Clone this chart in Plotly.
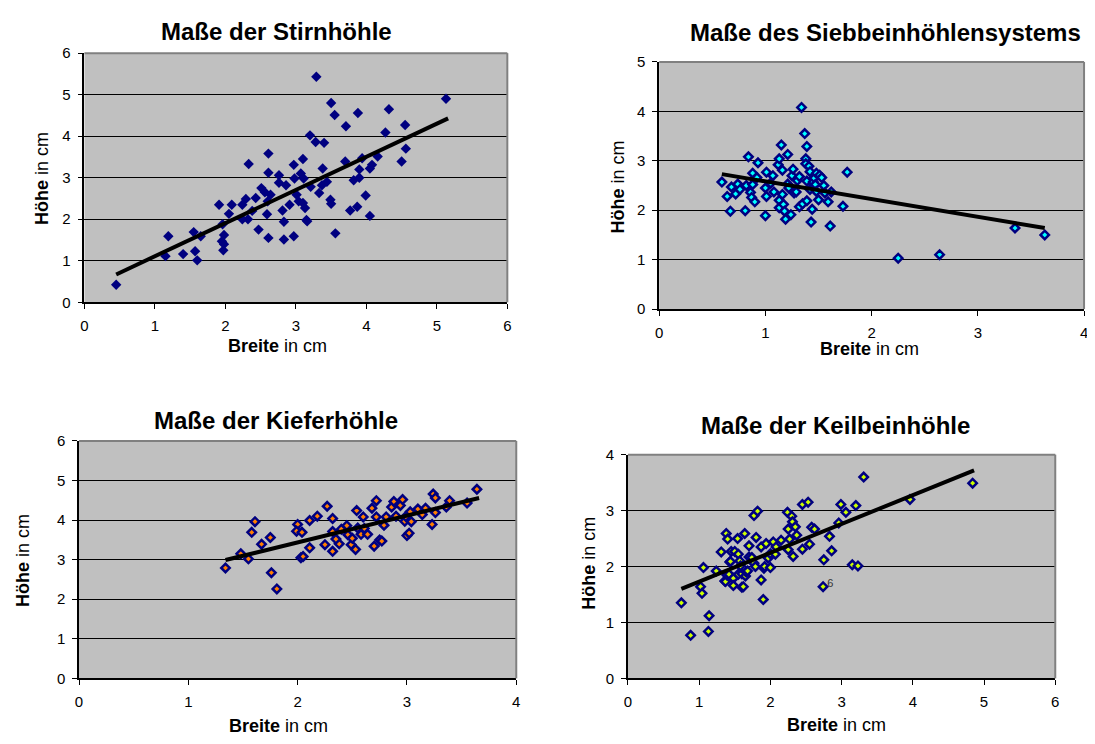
import plotly.graph_objects as go

# page body keeps a default 8px margin around the plot
PAGE_MARGIN = 8
W, H = 1095 - PAGE_MARGIN, 744 - PAGE_MARGIN

# ---------------- data ----------------
# Panel 1: Maße der Stirnhöhle
stirn_breite = [0.45, 1.19, 1.15, 1.40, 1.55, 1.57, 1.60, 1.65, 1.91, 1.96, 1.98, 1.95, 1.98, 1.97,
                2.05, 2.09, 2.24, 2.29, 2.33, 2.24, 2.32, 2.38, 2.43, 2.47, 2.51, 2.56, 2.60, 2.64,
                2.59, 2.61, 2.61, 2.61, 2.76, 2.76, 2.86, 2.81, 2.83, 2.83, 2.91, 2.97, 2.98, 2.97,
                3.01, 3.04, 3.07, 3.10, 3.11, 3.10, 3.13, 3.15, 3.16, 3.20, 3.29, 3.28, 3.40, 3.21,
                3.33, 3.38, 3.37, 3.44, 3.49, 3.50, 3.50, 3.55, 3.56, 3.71, 3.70, 3.77, 3.87, 3.88,
                3.82, 3.90, 3.90, 3.94, 3.99, 4.05, 4.08, 4.05, 4.16, 4.27, 4.32, 4.50, 4.55, 4.56,
                5.13]
stirn_hoehe = [0.42, 1.59, 1.11, 1.16, 1.69, 1.23, 1.01, 1.59, 2.35, 1.88, 1.62, 1.47, 1.40, 1.25,
               2.13, 2.35, 2.35, 2.49, 3.33, 2.00, 2.00, 2.20, 2.51, 1.75, 2.75, 2.65, 2.43, 2.59,
               2.12, 1.55, 3.58, 3.12, 3.06, 2.88, 2.82, 2.21, 1.94, 1.51, 2.35, 3.31, 2.98, 1.59,
               2.59, 2.43, 3.10, 3.45, 2.98, 2.39, 2.27, 1.98, 1.95, 4.02, 5.43, 3.86, 3.84, 2.78,
               2.63, 3.22, 2.82, 2.90, 2.47, 2.37, 4.80, 4.51, 1.66, 4.24, 3.39, 2.21, 2.30, 4.56,
               2.94, 3.00, 3.20, 3.47, 2.57, 3.22, 3.31, 2.08, 3.51, 4.09, 4.65, 3.39, 4.27, 3.70,
               4.90]
stirn_trend_x = [0.45, 5.16]
stirn_trend_y = [0.67, 4.43]

# Panel 2: Maße des Siebbeinhöhlensystems
sieb_breite = [0.59, 0.64, 0.67, 0.68, 0.72, 0.74, 0.76, 0.81, 0.82, 0.84, 0.86, 0.87, 0.88, 0.88,
               0.90, 0.92, 0.93, 1.00, 1.00, 1.01, 1.01, 1.05, 1.07, 1.08, 1.12, 1.13, 1.13, 1.13,
               1.15, 1.16, 1.16, 1.17, 1.18, 1.19, 1.21, 1.21, 1.22, 1.24, 1.25, 1.26, 1.27, 1.29,
               1.30, 1.32, 1.32, 1.34, 1.35, 1.37, 1.38, 1.38, 1.39, 1.39, 1.39, 1.41, 1.42, 1.42,
               1.43, 1.44, 1.45, 1.46, 1.47, 1.48, 1.48, 1.50, 1.51, 1.53, 1.55, 1.56, 1.59, 1.61,
               1.62, 1.73, 1.77, 2.25, 2.64, 3.35, 3.63]
sieb_hoehe = [2.57, 2.28, 1.98, 2.47, 2.33, 2.53, 2.42, 1.99, 2.50, 3.08, 2.36, 2.26, 2.75, 2.52,
              2.17, 2.66, 2.96, 1.89, 2.45, 2.77, 2.28, 2.55, 2.70, 2.37, 2.92, 3.04, 2.20, 2.05,
              3.32, 2.81, 2.32, 2.12, 1.98, 1.82, 3.13, 2.53, 2.45, 1.91, 2.70, 2.83, 2.35, 2.37,
              2.60, 2.68, 2.07, 4.08, 2.13, 3.55, 3.04, 2.94, 3.29, 2.59, 2.19, 2.89, 2.78, 2.42,
              1.76, 2.02, 2.57, 2.65, 2.52, 2.75, 2.38, 2.21, 2.71, 2.66, 2.50, 2.35, 2.17, 1.68,
              2.37, 2.08, 2.77, 1.03, 1.10, 1.64, 1.50]
sieb_trend_x = [0.59, 3.63]
sieb_trend_y = [2.73, 1.64]

# Panel 3: Maße der Kieferhöhle
kiefer_breite = [1.34, 1.48, 1.55, 1.58, 1.61, 1.67, 1.75, 1.76, 1.81, 2.00, 1.99, 2.04, 2.03, 2.05,
                 2.11, 2.11, 2.18, 2.27, 2.32, 2.25, 2.32, 2.32, 2.38, 2.35, 2.40, 2.45, 2.46, 2.49,
                 2.53, 2.50, 2.54, 2.55, 2.58, 2.60, 2.61, 2.64, 2.68, 2.72, 2.70, 2.75, 2.77, 2.72,
                 2.79, 2.81, 2.86, 2.88, 2.90, 2.94, 2.96, 2.98, 3.00, 3.02, 3.04, 2.99, 3.03, 3.10,
                 3.14, 3.17, 3.23, 3.24, 3.26, 3.26, 3.36, 3.39, 3.55, 3.64]
kiefer_hoehe = [2.79, 3.15, 3.02, 3.69, 3.96, 3.39, 3.56, 2.67, 2.26, 3.89, 3.72, 3.69, 3.05, 3.08,
                3.30, 3.99, 4.10, 4.35, 4.04, 3.38, 3.21, 3.71, 3.40, 3.52, 3.77, 3.86, 3.63, 3.38,
                3.26, 3.54, 4.24, 3.80, 3.64, 4.08, 3.79, 3.64, 4.30, 4.49, 3.34, 3.50, 3.47, 4.08,
                3.87, 4.08, 4.33, 4.47, 4.10, 4.37, 4.52, 3.97, 3.61, 3.67, 3.96, 4.09, 4.21, 4.28,
                4.14, 4.30, 3.89, 4.66, 4.56, 4.19, 4.33, 4.49, 4.43, 4.78]
kiefer_trend_x = [1.34, 3.66]
kiefer_trend_y = [2.99, 4.56]

# Panel 4: Maße der Keilbeinhöhle
keil_breite = [0.75, 0.88, 1.02, 1.04, 1.06, 1.14, 1.13, 1.24, 1.31, 1.36, 1.37, 1.38, 1.39, 1.40,
               1.42, 1.43, 1.44, 1.45, 1.48, 1.48, 1.50, 1.54, 1.55, 1.55, 1.57, 1.58, 1.60, 1.60,
               1.62, 1.64, 1.65, 1.66, 1.68, 1.70, 1.70, 1.74, 1.77, 1.77, 1.79, 1.80, 1.82, 1.87,
               1.87, 1.90, 1.91, 1.92, 1.94, 1.97, 2.00, 2.00, 2.04, 2.07, 2.08, 2.15, 2.24, 2.25,
               2.25, 2.27, 2.30, 2.31, 2.32, 2.35, 2.37, 2.45, 2.45, 2.53, 2.55, 2.58, 2.62, 2.74,
               2.75, 2.83, 2.86, 2.96, 2.99, 3.06, 3.15, 3.20, 3.23, 3.31, 3.96, 4.84]
keil_hoehe = [1.35, 0.77, 1.64, 1.52, 1.98, 1.12, 0.84, 1.92, 2.26, 1.74, 1.73, 2.59, 1.85, 2.49,
              1.86, 2.08, 2.09, 2.27, 1.79, 1.66, 2.27, 2.50, 2.22, 1.86, 2.10, 2.01, 1.87, 1.63,
              1.64, 2.59, 1.83, 1.90, 1.92, 2.37, 2.17, 2.16, 2.06, 2.91, 2.00, 2.52, 2.99, 1.76,
              2.35, 1.41, 1.97, 2.00, 2.41, 2.15, 1.98, 2.23, 2.44, 2.22, 2.35, 2.47, 2.97, 2.67,
              2.30, 2.49, 2.90, 2.80, 2.18, 2.71, 2.56, 2.31, 3.11, 3.15, 2.40, 2.70, 2.67, 1.64,
              2.12, 2.54, 2.28, 2.78, 3.11, 2.97, 2.03, 3.09, 2.01, 3.60, 3.20, 3.49]
keil_trend_x = [0.75, 4.86]
keil_trend_y = [1.60, 3.72]
keil_label_x = [2.84]
keil_label_y = [1.69]
keil_label_text = ["6"]

titles = ["Maße der Stirnhöhle", "Maße des Siebbeinhöhlensystems",
          "Maße der Kieferhöhle", "Maße der Keilbeinhöhle"]
x_ranges = [[0, 6], [0, 4], [0, 4], [0, 6]]
y_ranges = [[0, 6], [0, 5], [0, 6], [0, 4]]

# ---------------- layout geometry (window pixels) ----------------
plot_px = [  # left, right, top, bottom
    (81, 507, 45, 300),
    (660, 1088, 54, 307),
    (75.5, 516, 442, 685),
    (628.5, 1059, 456, 685),
]
title_px = [(274, 23), (888, 24), (274, 421), (838, 426)]
xtitle_px = [(275, 345), (872, 348), (276, 734), (839, 733)]
ytitle_px = [(38, 173), (618, 182), (19, 564), (589, 567)]

FONT = "Arial, 'Liberation Sans', sans-serif"
NAVY = "#000080"
fills = [NAVY, "#00FFFF", "#FF7F00", "#CCFF00"]


def px_x(v):
    return (v - PAGE_MARGIN) / W


def px_y(v):
    return 1 - (v - PAGE_MARGIN) / H


data_sets = [
    (stirn_breite, stirn_hoehe, stirn_trend_x, stirn_trend_y),
    (sieb_breite, sieb_hoehe, sieb_trend_x, sieb_trend_y),
    (kiefer_breite, kiefer_hoehe, kiefer_trend_x, kiefer_trend_y),
    (keil_breite, keil_hoehe, keil_trend_x, keil_trend_y),
]

fig = go.Figure()
layout = dict(
    width=W, height=H, margin=dict(l=0, r=0, t=0, b=0),
    paper_bgcolor="white", plot_bgcolor="#C0C0C0",
    showlegend=False, font=dict(family=FONT, color="black"),
    annotations=[], shapes=[],
)

for i, (bx, hy, tx, ty) in enumerate(data_sets):
    n = "" if i == 0 else str(i + 1)
    xa, ya = "x" + n, "y" + n
    if i == 0:
        marker = dict(symbol="diamond", size=8, color=NAVY, line=dict(width=0))
    else:
        marker = dict(symbol="diamond", size=6.5, color=fills[i], line=dict(width=2.5, color=NAVY))
    fig.add_trace(go.Scatter(x=bx, y=hy, mode="markers", marker=marker,
                             xaxis=xa, yaxis=ya, hoverinfo="x+y"))
    fig.add_trace(go.Scatter(x=tx, y=ty, mode="lines", line=dict(color="black", width=4),
                             xaxis=xa, yaxis=ya, hoverinfo="skip"))
    l, r, t, b = plot_px[i]
    layout["xaxis" + n] = dict(
        domain=[px_x(l), px_x(r)], range=x_ranges[i], anchor=ya, dtick=1, tick0=0,
        showgrid=False, zeroline=False, showline=True, linecolor="black", linewidth=1.5,
        ticks="outside", ticklen=5, tickcolor="black", tickwidth=1, ticklabelstandoff=4,
        tickfont=dict(size=15, family=FONT, color="black"), fixedrange=True,
    )
    layout["yaxis" + n] = dict(
        domain=[px_y(b), px_y(t)], range=y_ranges[i], anchor=xa, dtick=1, tick0=0,
        showgrid=True, gridcolor="black", gridwidth=1, zeroline=False,
        showline=True, linecolor="black", linewidth=1.5,
        ticks="outside", ticklen=5, tickcolor="black", tickwidth=1, ticklabelstandoff=4,
        tickfont=dict(size=15, family=FONT, color="black"), fixedrange=True,
    )
    # gray plot-area border on top and right
    for (x0, y0, x1, y1) in [(0, 1, 1, 1), (1, 0, 1, 1)]:
        layout["shapes"].append(dict(type="line", xref=xa + " domain", yref=ya + " domain",
                                     x0=x0, y0=y0, x1=x1, y1=y1,
                                     line=dict(color="#808080", width=2), layer="above"))
    # chart title
    tx_, ty_ = title_px[i]
    layout["annotations"].append(dict(text="<b>%s</b>" % titles[i], xref="paper", yref="paper",
                                      x=px_x(tx_), y=px_y(ty_), xanchor="center", yanchor="middle",
                                      showarrow=False, font=dict(size=24, family=FONT, color="black")))
    # x axis title
    xx, xy = xtitle_px[i]
    layout["annotations"].append(dict(text="<b>Breite</b> in cm", xref="paper", yref="paper",
                                      x=px_x(xx), y=px_y(xy), xanchor="center", yanchor="middle",
                                      showarrow=False, font=dict(size=18, family=FONT, color="black")))
    # y axis title
    yx, yy = ytitle_px[i]
    layout["annotations"].append(dict(text="<b>Höhe</b> in cm", xref="paper", yref="paper",
                                      x=px_x(yx), y=px_y(yy), xanchor="center", yanchor="middle",
                                      textangle=-90, showarrow=False,
                                      font=dict(size=18, family=FONT, color="black")))

# small data label in the Keilbeinhöhle panel
fig.add_trace(go.Scatter(x=keil_label_x, y=keil_label_y, mode="text", text=keil_label_text,
                         textposition="middle center",
                         textfont=dict(size=11, family=FONT, color="#333333"),
                         xaxis="x4", yaxis="y4", hoverinfo="skip"))

fig.update_layout(**layout)
fig.write_html("out.html")
